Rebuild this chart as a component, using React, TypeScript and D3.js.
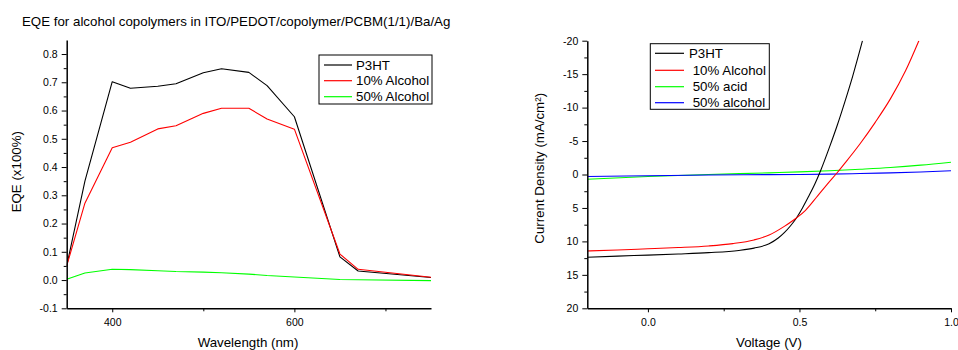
import React, { useRef, useEffect } from 'react';
import * as d3 from 'd3';

const W = 958;
const H = 350;
const FONT = '"Liberation Sans", Arial, sans-serif';
const LABEL_SIZE = '13.3px';

// EQE spectra (left panel)
const wavelengths = [350, 370, 400, 420, 450, 470, 500, 520, 550, 570, 600, 650, 670, 750];
const eqeP3ht = [0.05, 0.35, 0.702, 0.679, 0.686, 0.695, 0.734, 0.748, 0.735, 0.688, 0.578, 0.082, 0.032, 0.009];
const eqe10Alcohol = [0.05, 0.272, 0.468, 0.488, 0.535, 0.546, 0.59, 0.608, 0.608, 0.57, 0.534, 0.092, 0.038, 0.01];
const eqe50Alcohol = [0.003, 0.025, 0.038, 0.037, 0.033, 0.03, 0.028, 0.026, 0.021, 0.016, 0.011, 0.002, 0.001, -0.002];
const eqeLabels = ['P3HT', '10% Alcohol', '50% Alcohol'];
const eqeColors = ['#000000', '#ff0000', '#00ff00'];
const eqeYTicks = [-0.1, 0, 0.1, 0.2, 0.3, 0.4, 0.5, 0.6, 0.7, 0.8];
const eqeYMinor = [-0.05, 0.05, 0.15, 0.25, 0.35, 0.45, 0.55, 0.65, 0.75];
const eqeXTicks = [400, 600];
const eqeXMinor = [500, 700];

// J-V curves (right panel)
const p3htV = [-0.2, -0.1, 0.0, 0.1, 0.2, 0.3, 0.35, 0.4, 0.43, 0.45, 0.47, 0.49, 0.51, 0.53, 0.55, 0.57, 0.6, 0.625, 0.65, 0.675, 0.708];
const p3htJ = [12.38, 12.2, 12.05, 11.88, 11.68, 11.35, 11.0, 10.35, 9.5, 8.7, 7.7, 6.5, 5.0, 3.3, 1.5, -0.6, -4.2, -7.4, -10.9, -14.6, -20.0];
const alc10V = [-0.2, -0.1, 0.0, 0.1, 0.2, 0.28, 0.35, 0.4, 0.45, 0.49, 0.52, 0.56, 0.59, 0.625, 0.65, 0.7, 0.75, 0.8, 0.85, 0.894];
const alc10J = [11.43, 11.28, 11.1, 10.92, 10.68, 10.33, 9.78, 9.05, 7.75, 6.5, 5.35, 3.2, 1.55, -0.3, -1.7, -4.6, -7.8, -11.3, -15.5, -20.0];
const acid50V = [-0.2, 0.0, 0.2, 0.4, 0.5, 0.6, 0.7, 0.8, 0.9, 1.0];
const acid50J = [0.72, 0.3, 0.0, -0.25, -0.39, -0.56, -0.79, -1.05, -1.4, -1.84];
const alc50V = [-0.2, 0.0, 0.2, 0.4, 0.5, 0.6, 0.7, 0.8, 0.9, 1.0];
const alc50J = [0.3, 0.18, 0.08, 0.02, 0.0, -0.05, -0.15, -0.25, -0.38, -0.55];
const jvLabels = ['P3HT', ' 10% Alcohol', ' 50% acid', ' 50% alcohol'];
const jvColors = ['#000000', '#ff0000', '#00ff00', '#0000ff'];
const jvYTicks = [-20, -15, -10, -5, 0, 5, 10, 15, 20];
const jvYMinor = [-17.5, -12.5, -7.5, -2.5, 2.5, 7.5, 12.5, 17.5];
const jvXTicks = [0, 0.5, 1.0];
const jvXMinor = [0.25, 0.75];

type Sel = d3.Selection<SVGGElement, unknown, null, undefined>;

function styleAxis(g: Sel) {
  g.select('.domain').attr('stroke', '#000').attr('stroke-width', 1.5);
  g.selectAll('.tick line').attr('stroke', '#000').attr('stroke-width', 1);
  g.selectAll('.tick text')
    .attr('fill', '#000')
    .attr('font-family', FONT)
    .attr('font-size', '10.5px');
}

function drawAxes(
  svg: d3.Selection<SVGSVGElement, unknown, null, undefined>,
  x: d3.ScaleLinear<number, number>,
  y: d3.ScaleLinear<number, number>,
  xTicks: number[], xMinor: number[], yTicks: number[], yMinor: number[],
  xFmt: (d: number) => string, yFmt: (d: number) => string,
  bottomY: number
) {
  const x0 = x.range()[0];
  // minor ticks first, no labels, no domain
  svg.append('g')
    .attr('transform', `translate(0,${bottomY})`)
    .call(d3.axisBottom(x).tickValues(xMinor).tickSize(3).tickSizeOuter(0).tickFormat(() => ''))
    .call((g: Sel) => { g.select('.domain').remove(); styleAxis(g); });
  svg.append('g')
    .attr('transform', `translate(${x0},0)`)
    .call(d3.axisLeft(y).tickValues(yMinor).tickSize(3).tickSizeOuter(0).tickFormat(() => ''))
    .call((g: Sel) => { g.select('.domain').remove(); styleAxis(g); });

  svg.append('g')
    .attr('transform', `translate(0,${bottomY})`)
    .call(d3.axisBottom(x).tickValues(xTicks).tickSize(4).tickSizeOuter(0).tickPadding(6)
      .tickFormat((d) => xFmt(d as number)))
    .call(styleAxis);
  svg.append('g')
    .attr('transform', `translate(${x0},0)`)
    .call(d3.axisLeft(y).tickValues(yTicks).tickSize(5).tickSizeOuter(0).tickPadding(4)
      .tickFormat((d) => yFmt(d as number)))
    .call(styleAxis);
}

function drawLegend(
  svg: d3.Selection<SVGSVGElement, unknown, null, undefined>,
  box: { x: number; y: number; w: number; h: number },
  rows: number[], labels: string[], colors: string[],
  lineX: [number, number], textX: number
) {
  const lg = svg.append('g');
  lg.append('rect')
    .attr('x', box.x).attr('y', box.y).attr('width', box.w).attr('height', box.h)
    .attr('fill', '#fff').attr('stroke', '#000').attr('stroke-width', 1);
  labels.forEach((label, i) => {
    lg.append('line')
      .attr('x1', lineX[0]).attr('x2', lineX[1])
      .attr('y1', rows[i]).attr('y2', rows[i])
      .attr('stroke', colors[i]).attr('stroke-width', 1.2);
    lg.append('text')
      .attr('x', textX).attr('y', rows[i] + 4.7)
      .attr('font-family', FONT).attr('font-size', LABEL_SIZE)
      .style('white-space', 'pre')
      .text(label);
  });
}

export default function App() {
  const svgRef = useRef<SVGSVGElement>(null);

  useEffect(() => {
    const svg = d3.select(svgRef.current as SVGSVGElement);
    svg.selectAll('*').remove();

    // Title
    svg.append('text')
      .attr('x', 22).attr('y', 25.5)
      .attr('font-family', FONT).attr('font-size', LABEL_SIZE)
      .text('EQE for alcohol copolymers in ITO/PEDOT/copolymer/PCBM(1/1)/Ba/Ag');

    // ---- Left panel: EQE ----
    const xE = d3.scaleLinear().domain([350, 750]).range([66.7, 431]);
    const yE = d3.scaleLinear().domain([-0.1, 0.85]).range([308.3, 39.9]);

    const defs = svg.append('defs');
    defs.append('clipPath').attr('id', 'clipEqe')
      .append('rect').attr('x', 66.7).attr('y', 39.9).attr('width', 431 - 66.7).attr('height', 308.3 - 39.9);
    defs.append('clipPath').attr('id', 'clipJv')
      .append('rect').attr('x', 587.3).attr('y', 40.7).attr('width', 951 - 587.3).attr('height', 308.3 - 40.7);

    const eqeLine = d3.line<number>()
      .x((_, i) => xE(wavelengths[i]))
      .y((d) => yE(d));
    const eqeSeries = [eqeP3ht, eqe10Alcohol, eqe50Alcohol];
    const eqeG = svg.append('g').attr('clip-path', 'url(#clipEqe)');
    [2, 0, 1].forEach((i) => {
      eqeG.append('path')
        .attr('d', eqeLine(eqeSeries[i]))
        .attr('fill', 'none')
        .attr('stroke', eqeColors[i])
        .attr('stroke-width', 1.1)
        .attr('stroke-linejoin', 'round');
    });

    drawAxes(svg, xE, yE, eqeXTicks, eqeXMinor, eqeYTicks, eqeYMinor,
      (d) => String(d), (d) => d.toFixed(1), 308.3);

    svg.append('text')
      .attr('transform', 'translate(21,171.7) rotate(-90)')
      .attr('text-anchor', 'middle')
      .attr('font-family', FONT).attr('font-size', LABEL_SIZE)
      .text('EQE (x100%)');
    svg.append('text')
      .attr('x', 248).attr('y', 346.7)
      .attr('text-anchor', 'middle')
      .attr('font-family', FONT).attr('font-size', LABEL_SIZE)
      .text('Wavelength (nm)');

    drawLegend(svg, { x: 319, y: 55, w: 113, h: 49 }, [65, 80.7, 96.7],
      eqeLabels, eqeColors, [324, 352], 356);

    // ---- Right panel: J-V ----
    const xJ = d3.scaleLinear().domain([-0.2, 1.0]).range([587.3, 951]);
    const yJ = d3.scaleLinear().domain([-20, 20]).range([40.7, 308.3]);

    const jvSeries: [number[], number[]][] = [
      [p3htV, p3htJ], [alc10V, alc10J], [acid50V, acid50J], [alc50V, alc50J],
    ];
    const jvG = svg.append('g').attr('clip-path', 'url(#clipJv)');
    [2, 3, 0, 1].forEach((i) => {
      const [vs, js] = jvSeries[i];
      const line = d3.line<number>()
        .x((_, k) => xJ(vs[k]))
        .y((d) => yJ(d))
        .curve(d3.curveMonotoneX);
      jvG.append('path')
        .attr('d', line(js))
        .attr('fill', 'none')
        .attr('stroke', jvColors[i])
        .attr('stroke-width', 1.1);
    });

    drawAxes(svg, xJ, yJ, jvXTicks, jvXMinor, jvYTicks, jvYMinor,
      (d) => d.toFixed(1), (d) => String(d), 308.3);

    svg.append('text')
      .attr('transform', 'translate(544.3,168.3) rotate(-90)')
      .attr('text-anchor', 'middle')
      .attr('font-family', FONT).attr('font-size', LABEL_SIZE)
      .text('Current Density (mA/cm\u00B2)');
    svg.append('text')
      .attr('x', 769).attr('y', 346.7)
      .attr('text-anchor', 'middle')
      .attr('font-family', FONT).attr('font-size', LABEL_SIZE)
      .text('Voltage (V)');

    drawLegend(svg, { x: 650.3, y: 43.7, w: 119, h: 65.6 }, [53.3, 70.3, 86.7, 102.7],
      jvLabels, jvColors, [655, 684], 689);
  }, []);

  return (
    <div style={{ position: 'absolute', left: 0, top: 0 }}>
      <svg ref={svgRef} width={W} height={H} style={{ display: 'block', background: '#fff' }} />
    </div>
  );
}
